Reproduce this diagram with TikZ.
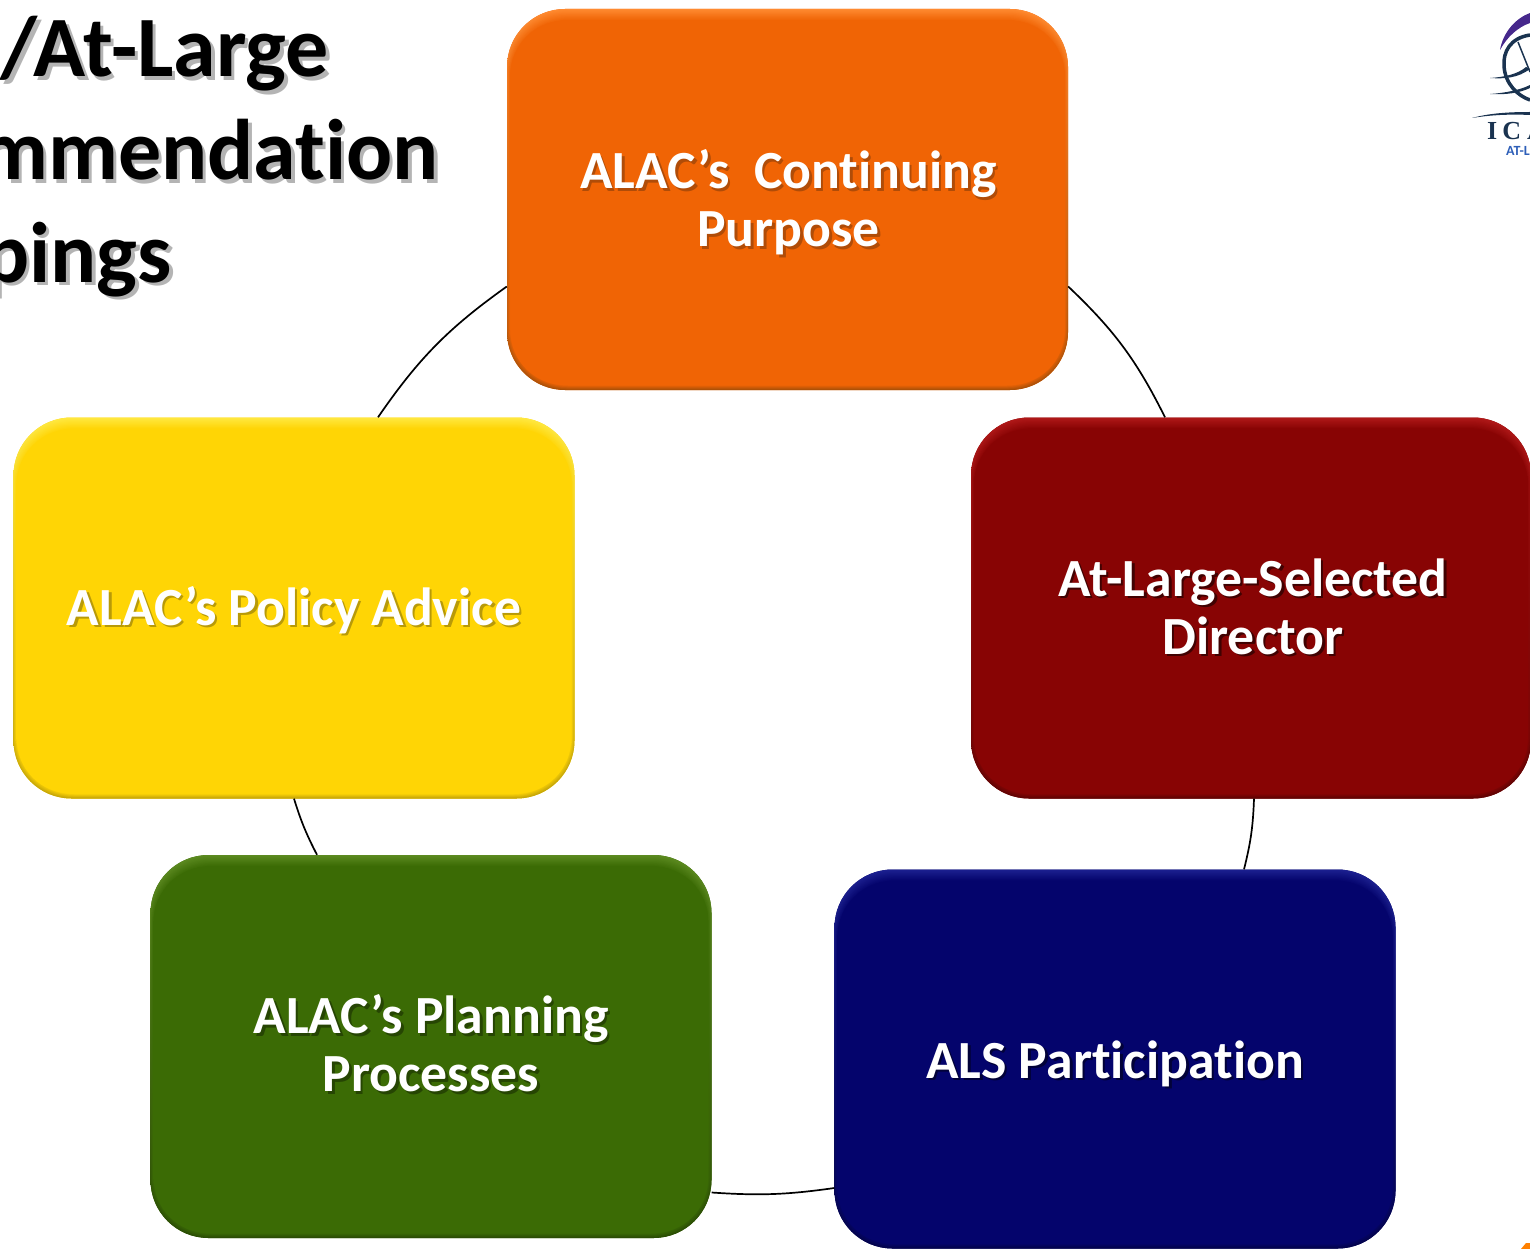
\documentclass[tikz,border=0pt]{standalone}
\usepackage{fontspec}
\setmainfont[Ligatures=NoCommon]{Carlito}
\newfontfamily\logoserif{Liberation Serif}
\usetikzlibrary{calc}
\definecolor{cOrange}{HTML}{F06405}
\definecolor{cOrangeL}{HTML}{FF8A30}
\definecolor{cOrangeD}{HTML}{A85008}
\definecolor{cRed}{HTML}{880404}
\definecolor{cRedL}{HTML}{B01818}
\definecolor{cRedD}{HTML}{5E0303}
\definecolor{cBlue}{HTML}{04046C}
\definecolor{cBlueL}{HTML}{1C2090}
\definecolor{cBlueD}{HTML}{03034A}
\definecolor{cGreen}{HTML}{3B6B05}
\definecolor{cGreenL}{HTML}{5C8A20}
\definecolor{cGreenD}{HTML}{2A4C04}
\definecolor{cYellow}{HTML}{FFD505}
\definecolor{cYellowL}{HTML}{FFE840}
\definecolor{cYellowD}{HTML}{C4A408}
\definecolor{cPurple}{HTML}{46288C}
\definecolor{cNavy}{HTML}{1A3350}
\definecolor{cAtl}{HTML}{2E5FB8}
\definecolor{cHeadShadow}{HTML}{B4B4B4}
\definecolor{cRedS}{HTML}{400202}
\definecolor{cBlueS}{HTML}{020238}
\definecolor{cGreenS}{HTML}{264503}
\definecolor{cOrangeS}{HTML}{B04C08}
\definecolor{cYellowS}{HTML}{B89A08}
\newcommand{\shadowed}[3]{\leavevmode\rlap{\kern#2\raisebox{-#2}{\textcolor{#1}{#3}}}#3}
\tikzset{
  tile/.style n args={3}{
    rounded corners=58pt, inner sep=0pt, minimum width=561pt, minimum height=381pt,
    fill=#1,
    path picture={
      \foreach \i in {0,...,9}{
        \pgfmathtruncatemacro{\p}{\i*11}
        \shade[rounded corners=58pt, top color=#1!\p!#2, bottom color=#1!\p!#3]
          ([xshift=0.35*\i pt,yshift=-1.2*\i pt]path picture bounding box.north west)
          rectangle ([xshift=-0.35*\i pt,yshift=0.5*\i pt]path picture bounding box.south east);
      }
      \fill[rounded corners=54pt,#1]
          ([xshift=3.5pt,yshift=-12pt]path picture bounding box.north west)
          rectangle ([xshift=-3.5pt,yshift=5pt]path picture bounding box.south east);
    }},
  tiletext/.style={inner sep=0pt, align=center, text=white, font=\bfseries\fontsize{53.7}{58}\selectfont},
  link/.style={draw=black, line width=1.7pt},
  head/.style={font=\bfseries\fontsize{86}{103}\selectfont, inner sep=0pt, text=black},
}
\begin{document}
\begin{tikzpicture}[x=1pt,y=-1pt]
\useasboundingbox (0,0) rectangle (1530,1249);
\node[tile={cOrange}{cOrangeL}{cOrangeD},label={[tiletext,xshift=1pt,yshift=-4pt]center:{\shadowed{cOrangeS}{2.5pt}{ALAC’s~ Continuing}\\\shadowed{cOrangeS}{2.5pt}{Purpose}}}] (purpose) at (787.5,199.5) {};
\node[tile={cRed}{cRedL}{cRedD},minimum width=560pt,label={[tiletext,xshift=2pt]center:{\shadowed{cRedS}{2.5pt}{At-Large-Selected}\\\shadowed{cRedS}{2.5pt}{Director}}}] (director) at (1251,608) {};
\node[tile={cBlue}{cBlueL}{cBlueD},minimum height=379pt,label={[tiletext,yshift=-6pt]center:{\shadowed{cBlueS}{2.5pt}{ALS Participation}}}] (als) at (1115,1059) {};
\node[tile={cGreen}{cGreenL}{cGreenD},minimum height=383pt,label={[tiletext,yshift=2pt]center:{\shadowed{cGreenS}{2.5pt}{ALAC’s Planning}\\\shadowed{cGreenS}{2.5pt}{Processes}}}] (planning) at (431,1046.5) {};
\node[tile={cYellow}{cYellowL}{cYellowD},label={[tiletext,yshift=-3pt]center:{\shadowed{cYellowS}{2.5pt}{ALAC’s Policy Advice}}}] (policy) at (294,608) {};
\draw[link] ([yshift=-87pt]purpose.east) to[bend left=10] ([xshift=-86pt]director.north);
\draw[link] ([xshift=3pt]director.south) to[bend left=6] ([xshift=129pt]als.north);
\draw[link] ([yshift=-129pt]als.west) to[bend left=6] ([yshift=-146pt]planning.east);
\draw[link] ([xshift=-114pt]planning.north) to[bend left=5] (policy.south);
\draw[link] ([xshift=84pt]policy.north) to[bend left=10] ([yshift=-87pt]purpose.west);
\node[head,anchor=base east] (t1) at (329,77) {\shadowed{cHeadShadow}{3.5pt}{/At-Large}};
\node[head,anchor=base east] (t2) at (439,180) {\shadowed{cHeadShadow}{3.5pt}{mmendation}};
\node[head,anchor=base east] (t3) at (172,282) {\shadowed{cHeadShadow}{3.5pt}{pings}};
\fill[cPurple] (1500,50) .. controls (1503,32) and (1516,18) .. (1530,13) -- (1530,23) .. controls (1518,27) and (1507,37) .. (1500,50) -- cycle;
\draw[cNavy,line width=3.5pt] (1530,35) .. controls (1510,38) and (1503,52) .. (1504,66) .. controls (1505,84) and (1518,96) .. (1530,100);
\draw[cNavy,line width=1.5pt] (1518,42) -- (1530,72);
\fill[cNavy] (1490,78) .. controls (1505,77) and (1518,74) .. (1526,67) -- (1530,69) .. controls (1518,78) and (1505,79) .. (1490,78) -- cycle;
\fill[cNavy] (1490,94) .. controls (1505,93) and (1520,90) .. (1530,85) -- (1530,88) .. controls (1520,93) and (1505,95) .. (1490,94) -- cycle;
\fill[cNavy] (1472,118) .. controls (1490,113) and (1510,112) .. (1530,112) -- (1530,115) .. controls (1510,114) and (1490,115) .. (1472,118) -- cycle;
\node[anchor=base west,inner sep=0pt,text=cNavy,font=\logoserif\bfseries\fontsize{26}{26}\selectfont] (logotext) at (1487,140) {I\hspace{5pt}C\hspace{6pt}A};
\node[anchor=base west,inner sep=0pt,text=cAtl,font=\bfseries\fontsize{14}{14}\selectfont] (logosub) at (1506,156) {AT-L};
\fill[orange] (1521,1249) -- (1526,1243) -- (1530,1243) -- (1530,1249) -- cycle;
\end{tikzpicture}
\end{document}
